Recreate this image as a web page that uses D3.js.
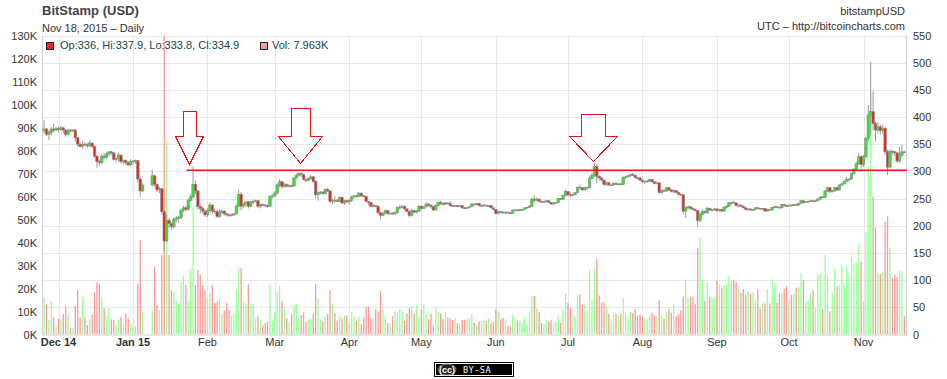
<!DOCTYPE html>
<html><head><meta charset="utf-8">
<script src="https://cdn.jsdelivr.net/npm/d3@7"></script>
<style>
html,body{margin:0;padding:0;background:#fff;}
svg{display:block;font-family:"Liberation Sans",Arial,Helvetica,sans-serif;}
</style></head><body>
<svg id="chart" width="947" height="379"></svg>
<script>
// ---- data (daily, Bitstamp USD, from 2014-11-25; Jan 6-8 2015 exchange offline) ----
const firstDay = "2014-11-25";
const open = [
375,378,368,372,378,376,
379,377,380,376,368,376,375,376,362,350,346,350,349,347,352,346,328,318,316,328,326,332,336,334,322,324,330,318,320,316,312,
318,319,320,286,264,null,null,null,275,292,276,266,268,226,172,210,204,198,212,214,215,229,233,230,247,253,276,264,235,232,227,
220,228,238,227,226,217,224,227,222,220,219,220,222,236,258,236,240,244,236,244,245,246,236,239,238,237,236,254,
255,260,275,281,272,276,273,274,273,288,293,296,294,285,283,287,290,282,257,261,262,259,267,264,245,247,246,245,252,242,246,
244,247,253,255,254,260,255,254,245,243,236,237,236,224,219,223,228,223,223,222,224,234,234,236,231,226,219,228,225,227,
236,232,235,240,238,235,229,237,243,241,239,242,241,237,236,237,236,237,233,232,234,235,240,239,241,237,237,238,237,237,233,
230,223,226,225,224,225,224,223,229,229,228,230,230,233,234,236,249,247,249,245,244,244,246,243,240,242,243,250,249,256,
263,257,256,257,261,271,270,266,270,270,287,293,309,291,288,284,276,279,275,275,278,276,277,276,289,290,292,294,293,289,288,
284,281,282,282,285,281,278,279,261,265,264,270,266,263,265,261,258,257,227,233,235,232,230,228,210,221,226,224,232,229,230,
231,228,230,227,234,236,242,243,242,237,238,236,233,230,231,229,230,233,232,231,232,227,230,229,234,235,234,233,239,237,
236,238,237,239,238,241,246,243,244,245,246,245,246,249,253,252,264,270,263,264,270,266,275,277,282,285,286,296,304,314,327,
313,327,361,404,410,388,376,382,375,379,336,308,337,336,334,319,330,336];
const high = [
394,380,376,382,388,382,
383,384,382,378,378,378,378,378,364,354,356,354,352,357,353,348,330,322,332,334,336,338,338,336,326,334,332,322,322,318,322,
321,322,321,290,278,null,null,null,303,294,278,272,270,230,222,214,206,216,218,218,232,237,236,250,258,309,283,266,240,236,230,
232,243,240,232,229,230,230,228,224,223,222,223,240,267,262,242,246,246,246,248,248,248,241,241,240,239,256,258,
264,278,286,283,279,278,276,276,290,296,298,299,295,287,289,294,292,284,263,264,263,269,270,266,250,254,250,254,254,248,248,
249,255,257,257,262,261,256,255,246,244,240,238,237,226,226,230,229,225,225,227,236,238,238,237,232,228,231,230,229,238,
237,236,243,242,239,237,239,246,246,244,244,243,245,238,238,238,238,238,234,235,236,241,241,242,242,239,240,239,238,238,234,
231,227,227,226,226,226,225,230,231,230,231,231,234,235,238,252,256,252,250,246,246,248,247,244,243,244,251,251,258,267,
264,261,259,262,272,276,271,272,272,292,297,316,312,293,290,285,281,280,277,280,280,278,279,291,291,293,296,297,294,290,289,
285,283,285,287,286,282,281,280,267,267,271,272,267,267,266,263,260,258,236,237,236,234,232,229,226,230,228,235,233,231,232,
232,231,231,236,237,244,245,246,243,239,240,237,234,232,232,231,234,235,233,232,233,231,231,235,237,236,235,240,240,238,
239,239,240,240,242,248,247,245,246,247,248,247,251,254,255,266,272,271,266,272,272,276,279,283,290,287,298,306,318,334,330,
330,364,422,502,447,392,390,386,386,382,340,341,340,338,336,345,349,337.9];
const low = [
370,365,358,366,372,374,
372,374,370,364,366,372,372,355,345,344,342,346,344,345,343,325,307,310,313,322,322,328,330,320,318,318,314,314,312,309,310,
313,314,280,254,262,null,null,null,272,272,262,260,220,152,170,196,192,194,206,205,212,225,226,228,244,250,258,230,222,222,216,
216,224,222,222,214,214,222,219,217,216,217,218,220,234,228,232,235,232,234,240,243,233,232,236,234,233,235,250,
252,258,270,268,270,270,270,271,272,286,290,290,283,280,282,285,278,250,246,258,257,258,262,242,240,242,244,244,240,238,242,
240,244,250,252,252,253,252,243,238,233,234,234,221,212,217,222,220,221,221,220,222,231,232,228,225,215,217,223,223,225,
230,231,234,236,232,227,228,236,239,238,238,239,235,235,235,234,235,232,230,231,232,234,237,238,236,235,235,235,235,232,229,
221,221,223,222,222,223,221,222,227,227,227,228,229,231,233,235,243,245,243,242,242,243,242,239,239,241,242,247,248,254,
254,253,254,256,260,266,264,265,266,269,285,290,278,283,282,274,274,274,273,274,275,274,275,275,286,288,290,291,286,285,283,
278,277,280,280,279,276,276,259,259,262,263,264,261,260,260,256,255,221,215,230,230,228,226,198,206,219,222,222,228,227,228,
226,226,226,226,232,235,239,241,236,234,235,232,228,227,228,227,229,231,230,229,226,226,228,228,233,233,232,232,235,235,
235,236,236,237,237,240,241,242,243,244,244,243,245,248,251,251,262,260,261,263,264,265,273,276,280,281,285,294,302,312,305,
308,325,355,366,376,355,370,368,370,330,293,305,330,328,316,316,326,333.8];
const close = [
378,368,372,378,376,379,
377,380,376,368,376,375,376,362,350,346,350,349,347,352,346,328,318,316,328,326,332,336,334,322,324,330,318,320,316,312,318,
319,320,286,264,275,null,null,null,292,276,266,268,226,172,210,204,198,212,214,215,229,233,230,247,253,276,264,235,232,227,220,
228,238,227,226,217,224,227,222,220,219,220,222,236,258,236,240,244,236,244,245,246,236,239,238,237,236,254,255,
260,275,281,272,276,273,274,273,288,293,296,294,285,283,287,290,282,257,261,262,259,267,264,245,247,246,245,252,242,246,244,
247,253,255,254,260,255,254,245,243,236,237,236,224,219,223,228,223,223,222,224,234,234,236,231,226,219,228,225,227,236,
232,235,240,238,235,229,237,243,241,239,242,241,237,236,237,236,237,233,232,234,235,240,239,241,237,237,238,237,237,233,230,
223,226,225,224,225,224,223,229,229,228,230,230,233,234,236,249,247,249,245,244,244,246,243,240,242,243,250,249,256,263,
257,256,257,261,271,270,266,270,270,287,293,309,291,288,284,276,279,275,275,278,276,277,276,289,290,292,294,293,289,288,284,
281,282,282,285,281,278,279,261,265,264,270,266,263,265,261,258,257,227,233,235,232,230,228,210,221,226,224,232,229,230,231,
228,230,227,234,236,242,243,242,237,238,236,233,230,231,229,230,233,232,231,232,227,230,229,234,235,234,233,239,237,236,
238,237,239,238,241,246,243,244,245,246,245,246,249,253,252,264,270,263,264,270,266,275,277,282,285,286,296,304,314,327,313,
327,361,404,410,388,376,382,375,379,336,308,337,336,334,319,330,336,334.9];
// volume in thousands of BTC
const volumeK = [
16.4,13.2,6.3,14.3,7.5,3.4,
7.0,6.6,8.9,12.4,8.9,3.0,3.0,12.4,19.3,7.3,16.2,7.5,4.1,6.7,8.5,18.5,22.8,22.0,16.2,11.4,8.0,11.8,6.6,6.3,4.1,6.6,7.8,4.5,9.2,7.0,4.5,
3.2,3.8,22.0,41.0,10.0,null,null,null,10.4,29.5,12.8,10.6,34.6,135,84,34.6,19.3,18.6,14.6,13.2,23.0,25.4,21.5,14.3,28.3,55.6,21.5,28.0,26.0,21.5,19.3,
15.7,17.9,21.5,13.8,14.3,15.3,9.0,10.5,13.8,10.9,8.0,9.2,19.6,29.0,28.8,14.3,13.5,21.8,13.2,13.2,7.0,8.0,6.5,4.0,5.0,5.6,22.0,6.0,
9.8,18.6,21.0,14.6,11.4,7.0,5.0,8.9,12.4,13.3,7.0,8.5,9.6,5.6,6.6,6.8,9.0,22.0,15.7,6.3,6.0,8.0,8.9,19.4,13.3,9.2,6.0,8.0,7.0,8.5,8.2,
5.0,10.0,8.2,6.0,8.0,4.5,7.4,12.1,12.1,7.4,7.0,11.0,10.0,19.0,11.0,7.8,5.0,4.5,8.0,10.0,9.8,11.0,10.1,5.9,9.2,11.4,12.6,9.2,12.8,7.7,
11.0,12.8,9.2,6.7,9.0,3.8,11.4,9.6,9.2,6.7,9.6,7.4,6.9,6.3,7.2,5.0,4.8,6.4,6.2,6.8,7.3,8.8,5.2,4.1,5.6,5.9,6.2,5.8,7.0,4.9,5.6,
11.0,9.6,6.7,7.3,6.4,3.8,3.5,8.4,7.4,6.2,6.0,5.0,7.6,4.5,9.6,16.5,16.8,11.4,9.8,5.0,4.4,6.4,5.5,6.2,5.0,5.6,8.0,5.0,10.6,17.8,
13.8,11.6,8.3,7.8,17.0,17.5,12.8,13.0,10.5,28.0,15.0,29.0,33.0,17.0,14.0,14.0,12.0,9.0,6.0,9.0,9.0,8.6,9.0,16.0,9.5,7.0,10.0,9.2,11.0,8.0,8.8,
8.0,7.2,6.5,9.0,9.5,8.3,8.0,15.0,8.5,7.0,10.0,11.0,9.5,12.8,8.0,9.0,10.5,16.4,24.0,16.0,16.4,16.3,13.2,37.7,42.0,23.7,14.7,22.8,16.2,15.7,15.9,
23.5,21.9,20.3,21.2,21.8,25.4,23.5,23.7,23.0,20.0,17.9,19.8,17.2,18.5,17.6,18.3,14.8,19.8,11.3,14.0,13.5,19.8,13.5,24.0,22.3,13.8,17.9,17.9,20.0,21.0,
15.0,17.2,17.6,20.3,20.8,26.6,23.7,14.3,14.7,18.3,19.3,11.4,25.9,26.6,11.1,34.6,25.1,10.1,17.9,28.8,20.8,21.4,30.2,21.4,29.5,25.9,33.7,30.9,31.7,39.2,31.7,
14.5,44.7,73,106,60,46.6,27.0,26.4,27.0,49.0,51.5,37.7,24.7,25.9,25.0,27.6,27.6,7.963];

const priceTicks = [0,50,100,150,200,250,300,350,400,450,500,550];
const volumeTicksK = [0,10,20,30,40,50,60,70,80,90,100,110,120,130];
const monthTickDates = ["2014-12-01","2015-01-01","2015-02-01","2015-03-01","2015-04-01","2015-05-01","2015-06-01","2015-07-01","2015-08-01","2015-09-01","2015-10-01","2015-11-01"];
const monthTickLabels = ["Dec 14","Jan 15","Feb","Mar","Apr","May","Jun","Jul","Aug","Sep","Oct","Nov"];
const boldTickLabels = ["Dec 14","Jan 15"];
// annotations (in data terms)
const resistanceLine = {from:"2015-01-23T07:00:00Z", price:302};
const arrowTips = [
  {date:"2015-01-24T07:00:00Z", price:313},
  {date:"2015-03-11T12:00:00Z", price:315.5},
  {date:"2015-07-11T12:00:00Z", price:319.7}
];

// ---- layout ----
const L = 42, R = 907, T = 35.5, B = 334.5;
const svg = d3.select("#chart");
const day0 = Date.UTC(2015,0,1), DAY = 864e5;
const dates = close.map((_, i) => d3.utcDay.offset(new Date(firstDay + "T00:00:00Z"), i));
const x = d3.scaleUtc().domain([new Date(day0 - 37.87*DAY), new Date(day0 + 322.1*DAY)]).range([L, R]);
const y = d3.scaleLinear().domain([0, 550]).range([B, T]);
const yv = d3.scaleLinear().domain([0, 130]).range([B, T]);

svg.append("defs").append("clipPath").attr("id","plot")
  .append("rect").attr("x",L).attr("y",T).attr("width",R-L).attr("height",B-T);

// grid
const grid = svg.append("g");
grid.selectAll("line.h").data(priceTicks.filter(d=>d>0)).join("line")
  .attr("x1",L).attr("x2",R).attr("y1",d=>Math.round(y(d))+0.5).attr("y2",d=>Math.round(y(d))+0.5)
  .attr("stroke","#e8e8e8").attr("stroke-width",1);
grid.selectAll("line.v").data(monthTickDates).join("line")
  .attr("x1",d=>Math.round(x(new Date(d+"T00:00:00Z")))+0.5).attr("x2",d=>Math.round(x(new Date(d+"T00:00:00Z")))+0.5)
  .attr("y1",T).attr("y2",B).attr("stroke","#e8e8e8").attr("stroke-width",1);

// axis lines
svg.append("line").attr("x1",L+0.5).attr("x2",L+0.5).attr("y1",T).attr("y2",B).attr("stroke","#cfcfcf");
svg.append("line").attr("x1",R-0.5).attr("x2",R-0.5).attr("y1",T).attr("y2",B).attr("stroke","#cfcfcf");
svg.append("line").attr("x1",L).attr("x2",R).attr("y1",B+0.5).attr("y2",B+0.5).attr("stroke","#cfcfcf");

// tick labels
const tickFont = 11;
svg.append("g").selectAll("text").data(volumeTicksK).join("text")
  .attr("x",37).attr("y",d=>yv(d)+4).attr("text-anchor","end")
  .attr("font-size",tickFont).attr("fill","#333").text(d=>d+"K");
svg.append("g").selectAll("text").data(priceTicks).join("text")
  .attr("x",913).attr("y",d=>y(d)+4).attr("text-anchor","start")
  .attr("font-size",tickFont).attr("fill","#333").text(d=>d);
svg.append("g").selectAll("text").data(monthTickDates).join("text")
  .attr("x",d=>x(new Date(d+"T00:00:00Z"))).attr("y",346).attr("text-anchor","middle")
  .attr("font-size",tickFont).attr("fill","#333")
  .attr("font-weight",(d,i)=>boldTickLabels.includes(monthTickLabels[i])?"bold":"normal")
  .text((d,i)=>monthTickLabels[i]);

// data rows
const rows = dates.map((dt,i)=>({dt,o:open[i],h:high[i],l:low[i],c:close[i],v:volumeK[i]})).filter(r=>r.c!=null);

const plot = svg.append("g").attr("clip-path","url(#plot)");
// volume bars
plot.append("g").selectAll("rect").data(rows).join("rect")
  .attr("x",r=>x(r.dt)-0.65).attr("width",1.3)
  .attr("y",r=>yv(r.v)).attr("height",r=>B-yv(r.v))
  .attr("fill",r=>r.c>=r.o?"#99ff99":"#ff9999");
// candles
const cg = plot.append("g");
cg.selectAll("line").data(rows).join("line")
  .attr("x1",r=>x(r.dt)).attr("x2",r=>x(r.dt))
  .attr("y1",r=>y(r.h)).attr("y2",r=>y(r.l))
  .attr("stroke","#999").attr("stroke-width",1);
cg.selectAll("rect").data(rows).join("rect")
  .attr("x",r=>x(r.dt)-1.25).attr("width",2.5)
  .attr("y",r=>y(Math.max(r.o,r.c)))
  .attr("height",r=>Math.max(0.8,Math.abs(y(r.o)-y(r.c))))
  .attr("fill",r=>r.c>=r.o?"#22ee22":"#ee2222")
  .attr("stroke","#8c8c8c").attr("stroke-width",0.6);

// resistance line
svg.append("line")
  .attr("x1",x(new Date(resistanceLine.from))).attr("x2",R)
  .attr("y1",y(resistanceLine.price)).attr("y2",y(resistanceLine.price))
  .attr("stroke","#e8141c").attr("stroke-width",1.6);

// arrows
const arrowSizes = [
  {sh:6.5, wh:13.8, shaft:25.7, head:27.6},
  {sh:9.5, wh:22, shaft:28, head:27},
  {sh:11.7, wh:23.7, shaft:22.7, head:24.7}
];
svg.append("g").selectAll("polygon").data(arrowTips).join("polygon")
  .attr("points",(a,i)=>{
    const s = arrowSizes[i], tx = Math.round(x(new Date(a.date)))+0.5, ty = Math.round(y(a.price))+0.5;
    const top = ty - s.head - s.shaft, wy = ty - s.head;
    return [[tx-s.sh,top],[tx+s.sh,top],[tx+s.sh,wy],[tx+s.wh,wy],[tx,ty],[tx-s.wh,wy],[tx-s.sh,wy]].map(p=>p.join(",")).join(" ");
  })
  .attr("fill","none").attr("stroke","#e8141c").attr("stroke-width",1).attr("shape-rendering","crispEdges");

// titles
svg.append("text").attr("x",42).attr("y",15).attr("font-size",13).attr("font-weight","bold").attr("fill","#444").text("BitStamp (USD)");
svg.append("text").attr("x",42).attr("y",32).attr("font-size",11).attr("fill","#333").text("Nov 18, 2015 \u2013 Daily");
svg.append("text").attr("x",905).attr("y",15).attr("font-size",11).attr("fill","#333").attr("text-anchor","end").text("bitstampUSD");
svg.append("text").attr("x",905).attr("y",30).attr("font-size",11).attr("fill","#333").attr("text-anchor","end").text("UTC \u2013 http://bitcoincharts.com");

// legend (latest day)
const last = rows[rows.length-1];
svg.append("rect").attr("x",46.5).attr("y",42.5).attr("width",7).attr("height",7).attr("fill","#ff2222").attr("stroke","#222");
svg.append("text").attr("x",60).attr("y",49).attr("font-size",11).attr("fill","#124848")
  .text(`Op:${last.o}, Hi:${last.h}, Lo:${last.l}, Cl:${last.c}`);
svg.append("rect").attr("x",260.5).attr("y",42.5).attr("width",7).attr("height",7).attr("fill","#ff9999").attr("stroke","#222");
svg.append("text").attr("x",272).attr("y",49).attr("font-size",11).attr("fill","#124848")
  .text(`Vol: ${last.v}K`);

// CC BY-SA badge
const badge = svg.append("g");
badge.append("rect").attr("x",434).attr("y",362).attr("width",80).attr("height",15).attr("fill","#000");
badge.append("rect").attr("x",435.5).attr("y",363.5).attr("width",77).attr("height",12).attr("fill","none").attr("stroke","#fff").attr("stroke-width",1);
badge.append("ellipse").attr("cx",447).attr("cy",369.5).attr("rx",9).attr("ry",5.5).attr("fill","#222").attr("stroke","#999").attr("stroke-width",0.8);
badge.append("text").attr("x",447).attr("y",373).attr("text-anchor","middle").attr("font-size",9).attr("font-weight","bold").attr("fill","#fff").text("(cc)");
badge.append("text").attr("x",463).attr("y",372.5).attr("font-size",8.5).attr("fill","#fff").attr("font-family","DejaVu Sans Mono, monospace").attr("letter-spacing",0.5).text("BY-SA");
</script>
</body></html>
